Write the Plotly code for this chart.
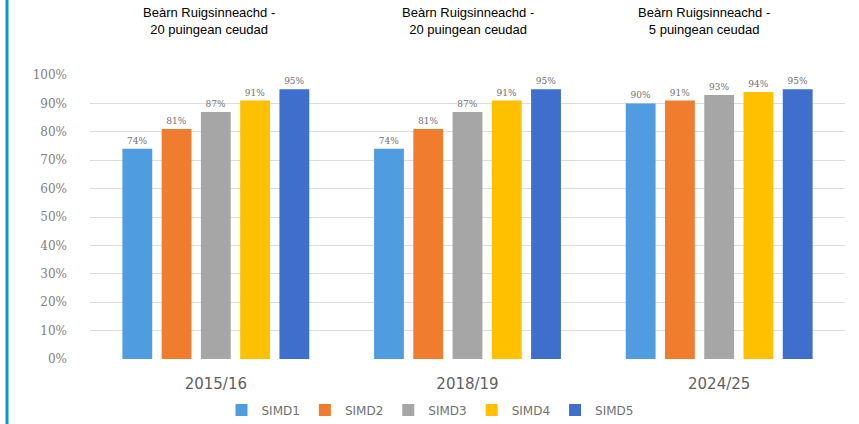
import plotly.graph_objects as go

categories = ["2015/16", "2018/19", "2024/25"]
series_names = ["SIMD1", "SIMD2", "SIMD3", "SIMD4", "SIMD5"]
simd1 = [0.74, 0.74, 0.90]
simd2 = [0.81, 0.81, 0.91]
simd3 = [0.87, 0.87, 0.93]
simd4 = [0.91, 0.91, 0.94]
simd5 = [0.95, 0.95, 0.95]
series_values = [simd1, simd2, simd3, simd4, simd5]
colors = ["#4f9de0", "#f07c2e", "#a6a6a6", "#ffc000", "#3f6fcc"]
group_titles = [
    "Beàrn Ruigsinneachd -<br>20 puingean ceudad",
    "Beàrn Ruigsinneachd -<br>20 puingean ceudad",
    "Beàrn Ruigsinneachd -<br>5 puingean ceudad",
]
ytick_vals = [i / 10 for i in range(11)]
ytick_text = [f"{i * 10}%" for i in range(11)]

W, H = 859, 424
ML, MR, MT, MB = 90, 14, 75, 65

fig = go.Figure()
for name, vals, col in zip(series_names, series_values, colors):
    fig.add_trace(go.Bar(
        name=name, x=categories, y=vals, marker_color=col,
        marker_line_width=0,
        text=[f"{round(v * 100)}%" for v in vals],
        textposition="outside", cliponaxis=False,
        textfont=dict(family="DejaVu Serif", size=9, color="#707070"),
    ))

for cat, t, dx in zip(categories, group_titles, [-7, 0, -15]):
    fig.add_annotation(
        x=cat, xref="x", y=1, yref="paper", yshift=36, xshift=dx,
        text=t, showarrow=False, align="center",
        font=dict(family="Liberation Sans", size=13, color="#000000"),
        yanchor="bottom",
    )

pw = W - ML - MR
ph = H - MT - MB
fig.add_shape(type="line", xref="paper", yref="paper",
              x0=(7 - ML) / pw, x1=(7 - ML) / pw, y0=-MB / ph, y1=1 + MT / ph,
              line=dict(color="#0a98c9", width=3))

fig.update_layout(
    width=W, height=H,
    margin=dict(l=ML, r=MR, t=MT, b=MB, autoexpand=False),
    paper_bgcolor="white", plot_bgcolor="white",
    barmode="group", bargap=0.22, bargroupgap=0.24,
    showlegend=True,
    legend=dict(orientation="h", xref="container", yref="container",
                x=430 / W, xanchor="center", y=1 - 410 / H, yanchor="middle",
                font=dict(family="DejaVu Sans", size=12, color="#707070"),
                traceorder="normal"),
    xaxis=dict(showgrid=False, showline=False, ticks="", ticklabelstandoff=14,
               tickfont=dict(family="DejaVu Sans", size=15, color="#606060")),
    yaxis=dict(range=[0, 1], tickvals=ytick_vals, ticktext=ytick_text,
               showgrid=True, gridcolor="#dcdcdc", gridwidth=1, zeroline=False,
               showline=False, ticks="", ticklen=0, ticklabelstandoff=22,
               tickfont=dict(family="DejaVu Serif", size=12, color="#808080")),
)

fig.write_html("out.html", config={"displayModeBar": False},
               post_script="document.body.style.margin='0';document.body.style.overflow='hidden';")
